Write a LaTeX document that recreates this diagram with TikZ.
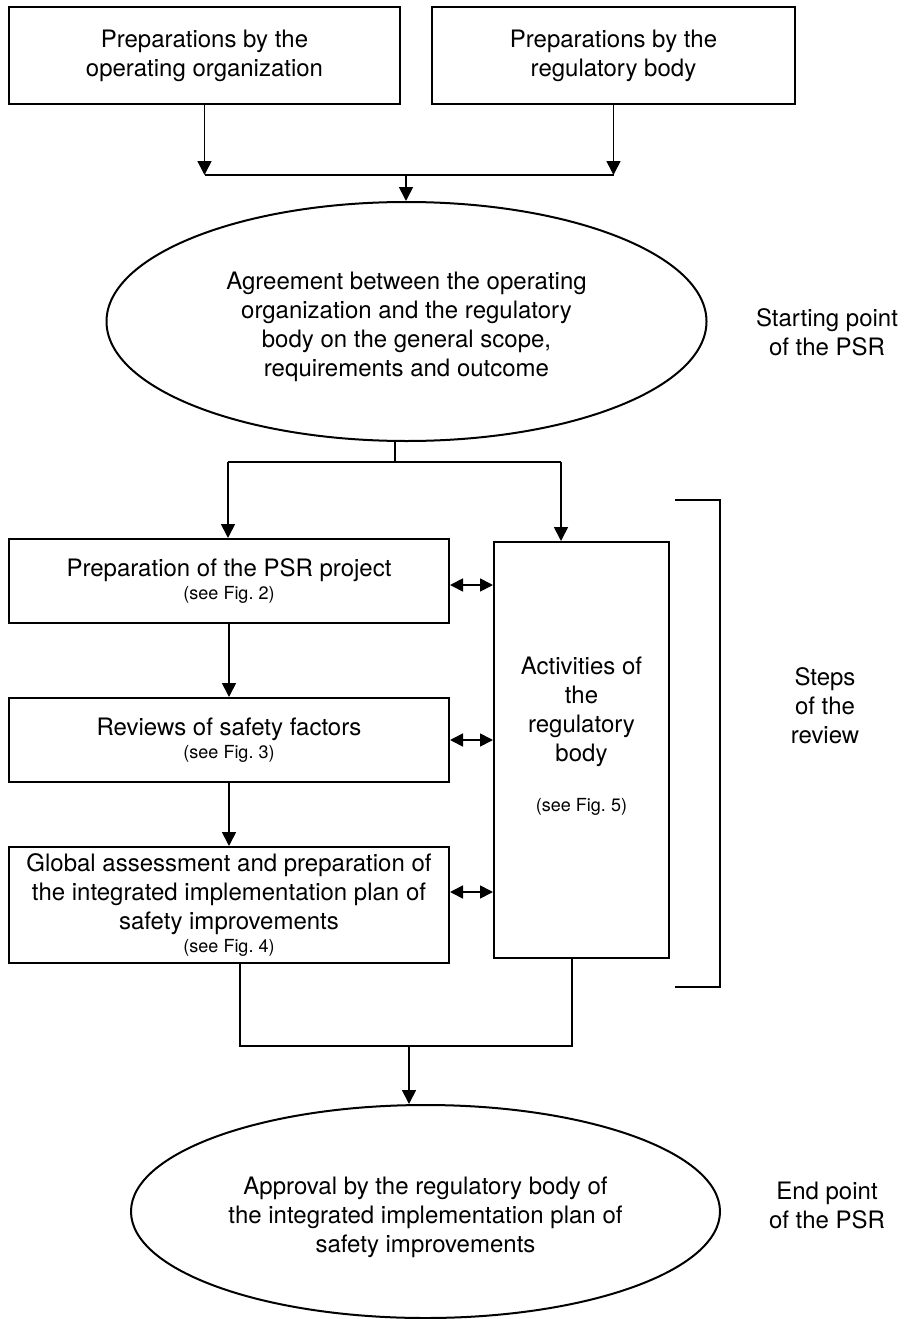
\documentclass[tikz,border=0pt]{standalone}
\usepackage{fontspec}
\setmainfont{TeX Gyre Heros}
\usetikzlibrary{arrows.meta,shapes.geometric}

\begin{document}
\begin{tikzpicture}[
  x=1pt, y=-1pt,
  box/.style={
    draw, line width=2pt,
    align=center,
    inner sep=0pt,
    font=\fontsize{24}{29}\selectfont
  },
  oval/.style={box, ellipse},
  lbl/.style={align=center, inner sep=0pt, font=\fontsize{24}{29}\selectfont},
  line/.style={draw, line width=1.7pt},
  arr/.style={line, -{Triangle[length=14pt,width=14pt]}},
  dbl/.style={line, {Triangle[length=13pt,width=13pt]}-{Triangle[length=13pt,width=13pt]}},
  brk/.style={draw, line width=2pt}
]
\newcommand{\seefig}[1]{{\fontsize{18}{22}\selectfont (see Fig.~#1)}}

\useasboundingbox (0,0) rectangle (905,1319);

% --- preparations ---
\node[box, minimum width=391pt, minimum height=97pt] (prepOp) at (204.5,55.5)
  {Preparations by the\\operating organization};
\node[box, minimum width=363pt, minimum height=97pt] (prepReg) at (613.5,55.5)
  {Preparations by the\\regulatory body};

% --- start ---
\node[oval, minimum width=600pt, minimum height=239pt] (agree) at (406.5,321.5)
  {\rule{0pt}{29pt}Agreement between the operating\\organization and the regulatory\\body on the general scope,\\requirements and outcome};

% --- steps ---
\node[box, minimum width=440pt, minimum height=84pt] (psrProj) at (229,581)
  {Preparation of the PSR project\\[-6pt]\seefig{2}};
\node[box, minimum width=440pt, minimum height=84pt] (reviews) at (229,740)
  {Reviews of safety factors\\[-6pt]\seefig{3}};
\node[box, minimum width=440pt, minimum height=116pt] (globalAss) at (229,905)
  {Global assessment and preparation of\\the integrated implementation plan of\\safety improvements\\[-6pt]\seefig{4}};
\node[box, minimum width=175pt, minimum height=416pt] (activ) at (581.5,750)
  {Activities of\\the\\regulatory\\body\\[21pt]\seefig{5}\\[3pt]\mbox{}};

% --- end ---
\node[oval, minimum width=589pt, minimum height=213pt] (approval) at (425.5,1211.5)
  {\rule{0pt}{29pt}Approval by the regulatory body of\\the integrated implementation plan of\\safety improvements};

% --- side labels ---
\node[lbl] (startLbl) at (827,332) {Starting point\\of the PSR};
\node[lbl] (stepsLbl) at (825,706) {Steps\\of the\\review};
\node[lbl] (endLbl) at (827,1205) {End point\\of the PSR};

% --- junctions ---
\coordinate (jTop) at (406,175);
\coordinate (jMid) at (395,462);
\coordinate (jSplitL) at (228,462);
\coordinate (jSplitR) at (561,462);
\coordinate (jBot) at (409,1046);
\coordinate (brTop) at (675,500);
\coordinate (brBot) at (675,987);

% --- connectors ---
\draw[arr] (prepOp.south) -- (prepOp.south |- jTop);
\draw[arr] (prepReg.south) -- (prepReg.south |- jTop);
\draw[line] (prepOp.south |- jTop) -- (prepReg.south |- jTop);
\draw[arr] (jTop) -- (jTop |- agree.north);

\draw[line] (jMid |- agree.south) -- (jMid);
\draw[line] (jSplitL) -- (jSplitR);
\draw[arr] (jSplitL) -- (jSplitL |- psrProj.north);
\draw[arr] (jSplitR) -- (jSplitR |- activ.north);

\draw[arr] (psrProj) -- (reviews);
\draw[arr] (reviews) -- (globalAss);

\draw[dbl] ([yshift=-4pt]psrProj.east) -- ([yshift=-4pt]psrProj.east -| activ.west);
\draw[dbl] (reviews.east) -- (reviews.east -| activ.west);
\draw[dbl] ([yshift=13pt]globalAss.east) -- ([yshift=13pt]globalAss.east -| activ.west);

\draw[line] ([xshift=11pt]globalAss.south) |- (jBot) -| ([xshift=-9.5pt]activ.south);
\draw[arr] (jBot) -- (jBot |- approval.north);

% --- bracket ---
\draw[brk] (brTop) -- ++(45,0) |- (brBot);

\end{tikzpicture}
\end{document}
